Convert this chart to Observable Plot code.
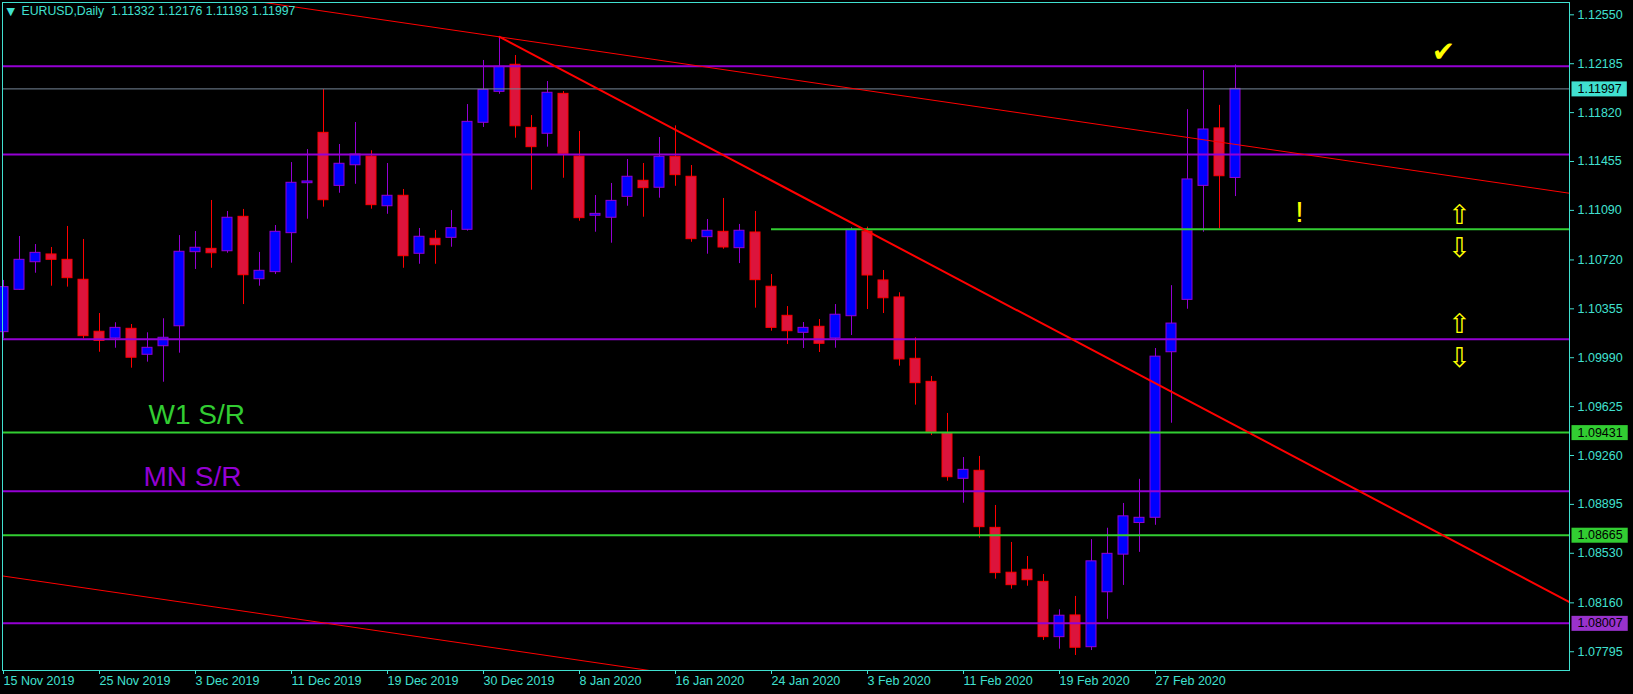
<!DOCTYPE html>
<html><head><meta charset="utf-8">
<script src="https://cdn.jsdelivr.net/npm/d3@7"></script>
<script src="https://cdn.jsdelivr.net/npm/@observablehq/plot@0.6"></script>
<style>
html,body{margin:0;padding:0;background:#000;}
#chart{width:1633px;height:694px;overflow:hidden;}
</style></head><body><div id="chart"></div>
<script>
// ---- data ----
const symbolName = "EURUSD,Daily";
const dates = ["2019-11-15","2019-11-18","2019-11-19","2019-11-20","2019-11-21","2019-11-22",
"2019-11-25","2019-11-26","2019-11-27","2019-11-28","2019-11-29",
"2019-12-02","2019-12-03","2019-12-04","2019-12-05","2019-12-06",
"2019-12-09","2019-12-10","2019-12-11","2019-12-12","2019-12-13",
"2019-12-16","2019-12-17","2019-12-18","2019-12-19","2019-12-20",
"2019-12-23","2019-12-24","2019-12-26","2019-12-27","2019-12-30","2019-12-31",
"2020-01-02","2020-01-03","2020-01-06","2020-01-07","2020-01-08","2020-01-09","2020-01-10",
"2020-01-13","2020-01-14","2020-01-15","2020-01-16","2020-01-17",
"2020-01-20","2020-01-21","2020-01-22","2020-01-23","2020-01-24",
"2020-01-27","2020-01-28","2020-01-29","2020-01-30","2020-01-31",
"2020-02-03","2020-02-04","2020-02-05","2020-02-06","2020-02-07",
"2020-02-10","2020-02-11","2020-02-12","2020-02-13","2020-02-14",
"2020-02-17","2020-02-18","2020-02-19","2020-02-20","2020-02-21",
"2020-02-24","2020-02-25","2020-02-26","2020-02-27","2020-02-28",
"2020-03-02","2020-03-03","2020-03-04","2020-03-05"];
const open = [1.10181,1.10497,1.10703,1.10761,1.10721,1.10572,
1.10184,1.10134,1.10206,1.10012,1.10076,
1.10225,1.10778,1.10803,1.10785,1.11042,
1.10576,1.10629,1.10920,1.11293,1.11669,
1.11273,1.11427,1.11492,1.11121,1.11199,
1.10766,1.10878,1.10885,1.10945,1.11744,1.11975,
1.12177,1.11706,1.11662,1.11960,1.11492,1.11050,1.11035,
1.11191,1.11311,1.11259,1.11490,1.11341,
1.10890,1.10930,1.10808,1.10925,1.10520,
1.10303,1.10176,1.10221,1.10134,1.10300,
1.10932,1.10567,1.10440,1.09982,1.09810,
1.09427,1.09086,1.09146,1.08720,1.08385,
1.08407,1.08317,1.07904,1.08066,1.07829,
1.08239,1.08520,1.08756,1.08795,1.10031,
1.10422,1.11273,1.11702,1.11332];
const high = [1.10567,1.10895,1.10835,1.10813,1.10970,1.10873,
1.10320,1.10251,1.10238,1.10176,1.10281,
1.10902,1.10932,1.11164,1.11082,1.11097,
1.10776,1.10977,1.11447,1.11544,1.11992,
1.11582,1.11746,1.11535,1.11440,1.11246,
1.10955,1.10940,1.11089,1.11880,1.12209,1.12386,
1.12246,1.11798,1.12052,1.11977,1.11679,1.11201,1.11291,
1.11470,1.11440,1.11634,1.11721,1.11425,
1.11022,1.11179,1.10985,1.11082,1.10611,
1.10372,1.10253,1.10275,1.10387,1.10960,
1.10965,1.10641,1.10475,1.10139,1.09850,
1.09574,1.09245,1.09253,1.08887,1.08611,
1.08506,1.08372,1.08108,1.08208,1.08632,
1.08717,1.08902,1.09082,1.10059,1.10528,
1.11842,1.12134,1.11874,1.12176];
const low = [1.10134,1.10494,1.10621,1.10524,1.10517,1.10131,
1.10031,1.10061,1.09912,1.09957,1.09807,
1.10024,1.10649,1.10658,1.10770,1.10387,
1.10524,1.10611,1.10696,1.11024,1.11114,
1.11218,1.11285,1.11099,1.11061,1.10658,
1.10688,1.10688,1.10815,1.10935,1.11709,1.11957,
1.11629,1.11241,1.11562,1.11330,1.11009,1.10927,1.10845,
1.11121,1.11039,1.11181,1.11270,1.10852,
1.10763,1.10800,1.10693,1.10360,1.10188,
1.10089,1.10059,1.10029,1.10061,1.10156,
1.10350,1.10320,1.09927,1.09636,1.09409,
1.09068,1.08904,1.08643,1.08337,1.08262,
1.08284,1.07879,1.07814,1.07767,1.07804,
1.08037,1.08290,1.08537,1.08739,1.09501,
1.10352,1.10927,1.10952,1.11193];
const close = [1.10517,1.10721,1.10773,1.10721,1.10584,1.10151,
1.10116,1.10213,1.09990,1.10064,1.10139,
1.10781,1.10811,1.10770,1.11035,1.10606,
1.10639,1.10930,1.11296,1.11306,1.11166,
1.11438,1.11507,1.11129,1.11199,1.10748,
1.10893,1.10830,1.10957,1.11751,1.11990,1.12162,
1.11718,1.11562,1.11968,1.11512,1.11032,1.11064,1.11161,
1.11341,1.11256,1.11490,1.11353,1.10875,
1.10938,1.10813,1.10938,1.10569,1.10213,
1.10188,1.10213,1.10094,1.10311,1.10945,
1.10604,1.10434,1.09977,1.09800,1.09434,
1.09098,1.09153,1.08725,1.08382,1.08292,
1.08329,1.07904,1.08064,1.07825,1.08470,
1.08526,1.08806,1.08795,1.09998,1.10245,
1.11321,1.11694,1.11345,1.11997];

const xTickDates  = ["2019-11-15","2019-11-25","2019-12-03","2019-12-11","2019-12-19","2019-12-30","2020-01-08","2020-01-16","2020-01-24","2020-02-03","2020-02-11","2020-02-19","2020-02-27"];
const xTickLabels = ["15 Nov 2019","25 Nov 2019","3 Dec 2019","11 Dec 2019","19 Dec 2019","30 Dec 2019","8 Jan 2020","16 Jan 2020","24 Jan 2020","3 Feb 2020","11 Feb 2020","19 Feb 2020","27 Feb 2020"];
const yTicks = [1.12550,1.12185,1.11820,1.11455,1.11090,1.10720,1.10355,1.09990,1.09625,1.09260,1.08895,1.08530,1.08160,1.07795];

const mnLevels = [1.12166, 1.11507, 1.10128, 1.08994, 1.08007];   // purple MN S/R
const w1Levels = [1.09431, 1.08665];                              // green W1 S/R
const w1Partial = [{p: 1.10950, from: "2020-01-24"}];             // green from 24 Jan
const bidLevel = [1.11997];
const tagPrices = [1.11997, 1.09431, 1.08665, 1.08007];
const tagColors = ["#40e0d0", "#32cd32", "#32cd32", "#9932cc"];

// trend lines: [bar index, price]
const trendUpper = [{i: 16.3, p: 1.12642}, {i: 97.875, p: 1.11218}];
const trendSteep = [{i: 31, p: 1.12386}, {i: 97.875, p: 1.08165}];
const trendLower = [{i: -0.0625, p: 1.08361}, {i: 40.37, p: 1.07655}];

const srLabels = [{t: "W1 S/R", i: 9.06, p: 1.09562, c: "#32cd32"}, {t: "MN S/R", i: 8.75, p: 1.09096, c: "#9400d3"}];
const checkMark = [{t: "\u2714", i: 90, p: 1.12269}];
const bang = [{t: "!", i: 81, p: 1.11074}];
const arrows = [{t: "\u21e7", i: 91, p: 1.11055}, {t: "\u21e9", i: 91, p: 1.10809},
                {t: "\u21e7", i: 91, p: 1.10242}, {t: "\u21e9", i: 91, p: 1.09984}];

// ---- build ----
const rows = dates.map((d, i) => ({i, date: d, o: open[i], h: high[i], l: low[i], c: close[i], up: close[i] >= open[i]}));
const ups = rows.filter(d => d.up), downs = rows.filter(d => !d.up);
const xDomain = [-0.0625, 97.875];
const turq = "#40e0d0";
const bullFill = "#0000ff", bullLine = "#9400d3", bearFill = "#dc143c", bearLine = "#ff0000";
const last = rows[rows.length - 1];
const header = symbolName + "\u00a0\u00a0" + [last.o, last.h, last.l, last.c].map(v => v.toFixed(5)).join(" ");
const halfBody = 0.3125;
const tagStrings = tagPrices.map(v => v.toFixed(5));

const chart = Plot.plot({
  width: 1633, height: 694,
  marginLeft: 2, marginRight: 64, marginTop: 2, marginBottom: 24,
  style: {background: "#000", color: turq, fontFamily: "'Liberation Sans', Arial, sans-serif", fontSize: "12.5px"},
  x: {type: "linear", domain: xDomain},
  y: {domain: [1.07655, 1.12642]},
  marks: [
    // wicks
    Plot.ruleX(ups, {x: "i", y1: "l", y2: "h", stroke: bullLine}),
    Plot.ruleX(downs, {x: "i", y1: "l", y2: "h", stroke: bearLine}),
    // bodies
    Plot.rect(ups, {x1: d => d.i - halfBody, x2: d => d.i + halfBody, y1: "o", y2: "c", fill: bullFill, stroke: bullLine}),
    Plot.rect(downs, {x1: d => d.i - halfBody, x2: d => d.i + halfBody, y1: "o", y2: "c", fill: bearFill, stroke: bearLine}),
    // levels
    Plot.ruleY(bidLevel, {stroke: "#778899", strokeWidth: 1}),
    Plot.ruleY(mnLevels, {stroke: "#9400d3", strokeWidth: 2}),
    Plot.ruleY(w1Levels, {stroke: "#32cd32", strokeWidth: 2}),
    Plot.ruleY(w1Partial, {y: "p", x1: d => dates.indexOf(d.from), x2: () => xDomain[1], stroke: "#32cd32", strokeWidth: 2}),
    // trend lines
    Plot.line(trendUpper, {x: "i", y: "p", stroke: "#ff0000", strokeWidth: 1, clip: true}),
    Plot.line(trendLower, {x: "i", y: "p", stroke: "#ff0000", strokeWidth: 1, clip: true}),
    Plot.line(trendSteep, {x: "i", y: "p", stroke: "#ff0000", strokeWidth: 2, clip: true}),
    // labels
    Plot.text(srLabels, {x: "i", y: "p", text: "t", fill: "c", textAnchor: "start", fontSize: 28}),
    Plot.text(checkMark, {x: "i", y: "p", text: "t", fill: "#ffff00", fontSize: 28, fontFamily: "DejaVu Sans"}),
    Plot.text(bang, {x: "i", y: "p", text: "t", fill: "#ffff00", fontSize: 30}),
    Plot.text(arrows, {x: "i", y: "p", text: "t", fill: "#ffff00", fontSize: 27, fontFamily: "DejaVu Sans"}),
    // header
    Plot.text(["\u25bc"], {frameAnchor: "top-left", dx: 4, dy: 5, textAnchor: "start", lineAnchor: "top", fill: turq, fontSize: 11, fontFamily: "DejaVu Sans"}),
    Plot.text([header], {frameAnchor: "top-left", dx: 19, dy: 4, textAnchor: "start", lineAnchor: "top", fill: turq, fontSize: 12.3}),
    // axes
    Plot.axisY(yTicks, {anchor: "right", tickSize: 4, tickPadding: 4, tickFormat: d => d.toFixed(5), label: null}),
    Plot.axisX(xTickDates.map(d => dates.indexOf(d)), {anchor: "bottom", tickSize: 4, tickPadding: 2, textAnchor: "start",
      tickFormat: i => xTickLabels[xTickDates.indexOf(dates[i])], label: null}),
    // price tags (text; coloured boxes added below)
    Plot.text(tagPrices, {y: d => d, frameAnchor: "right", dx: 8, textAnchor: "start", text: d => d.toFixed(5), fill: "#000"}),
    Plot.frame({stroke: turq})
  ]
});
document.getElementById("chart").appendChild(chart);

// backgrounds for the price tags
d3.select(chart).selectAll("text").filter(function() {
  return tagStrings.includes(this.textContent);
}).each(function() {
  const k = tagStrings.indexOf(this.textContent);
  const b = this.getBBox();
  const r = document.createElementNS("http://www.w3.org/2000/svg", "rect");
  const tr = this.getAttribute("transform");
  if (tr) r.setAttribute("transform", tr);
  const cy = b.y + b.height / 2;
  r.setAttribute("x", b.x - 6);
  r.setAttribute("y", cy - 7.5);
  r.setAttribute("width", b.width + 11);
  r.setAttribute("height", 15);
  r.setAttribute("fill", tagColors[k]);
  this.parentNode.insertBefore(r, this);
});
</script></body></html>
